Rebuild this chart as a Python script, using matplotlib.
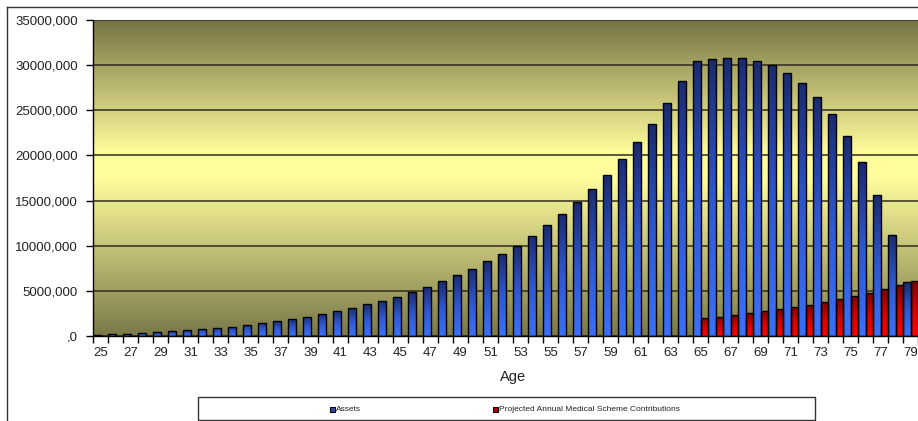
import numpy as np
import matplotlib
matplotlib.use('Agg')
import matplotlib.pyplot as plt
from matplotlib.colors import LinearSegmentedColormap
from matplotlib.patches import Rectangle
from matplotlib.lines import Line2D
from matplotlib.ticker import FuncFormatter, MultipleLocator

plt.rcParams['font.family'] = ['Liberation Sans', 'DejaVu Sans']

# projected values in millions, per age
ages = list(range(25, 80))
assets = [0.10, 0.20, 0.22, 0.37, 0.44, 0.55, 0.63, 0.81, 0.92, 1.03,
          1.25, 1.47, 1.66, 1.88, 2.14, 2.45, 2.77, 3.14, 3.50, 3.91,
          4.32, 4.84, 5.46, 6.09, 6.72, 7.42, 8.27, 9.08, 9.97, 11.11,
          12.29, 13.55, 14.80, 16.25, 17.83, 19.62, 21.45, 23.48, 25.80, 28.24,
          30.45, 30.68, 30.82, 30.82, 30.49, 29.98, 29.17, 28.06, 26.44, 24.63,
          22.15, 19.27, 15.62, 11.19, 5.95]
med_ages = list(range(65, 80))
med_contrib = [2.03, 2.14, 2.33, 2.58, 2.77, 2.99, 3.25, 3.47, 3.77, 4.06,
               4.39, 4.80, 5.20, 5.65, 6.05]

W, H = 918, 421


def fx(x):
    return x / W


def fy(y):
    return 1 - y / H


fig = plt.figure(figsize=(W / 100, H / 100), dpi=100)
fig.patch.set_facecolor('white')

# chart area outline (runs off the right and bottom)
fig.add_artist(Line2D([fx(7), fx(7)], [fy(7), fy(H + 5)], color='#333333', lw=1))
fig.add_artist(Line2D([fx(7), fx(W + 5)], [fy(7), fy(7)], color='#333333', lw=1))

ax = fig.add_axes([fx(93), fy(336), (933 - 93) / W, (336 - 20) / H])

x_lo, x_hi = 24.5, 80.5
y_top = 35e6

# plot area fill: olive -> yellow -> olive
grad = np.linspace(0, 1, 256).reshape(-1, 1)
bg_cmap = LinearSegmentedColormap.from_list(
    'bg', [(0, '#7a7849'), (0.5, '#fffd9c'), (0.58, '#fffd9c'), (1, '#777446')])
ax.imshow(grad, cmap=bg_cmap, extent=(x_lo, x_hi, 0, y_top), origin='lower',
          aspect='auto', zorder=-2)

ax.yaxis.grid(True, color='#2e2c1c', lw=1.1, zorder=-1)
ax.set_axisbelow(True)

blue_cmap = LinearSegmentedColormap.from_list('blue', ['#3c70fa', '#2f58d0', '#1b2b6e'])
red_cmap = LinearSegmentedColormap.from_list('red', ['#ff0000', '#d00000', '#780404'])


def gradient_bars(xs, vals, offset, cmap):
    bars = ax.bar(np.array(xs) + offset, np.array(vals) * 1e6, width=0.5,
                  facecolor='none', edgecolor='black', lw=1.0, zorder=3)
    for b in bars:
        x0, w, h = b.get_x(), b.get_width(), b.get_height()
        im = ax.imshow(grad, cmap=cmap, extent=(x0, x0 + w, 0, h), origin='lower',
                       aspect='auto', zorder=2)
        im.set_clip_path(b)
    return bars


gradient_bars(ages, assets, -0.25, blue_cmap)
gradient_bars(med_ages, med_contrib, 0.25, red_cmap)

ax.set_xlim(x_lo, x_hi)
ax.set_ylim(0, y_top)

for s in ['top', 'right']:
    ax.spines[s].set_visible(False)
for s in ['left', 'bottom']:
    ax.spines[s].set_color('black')
    ax.spines[s].set_linewidth(1.0)

ax.yaxis.set_major_locator(MultipleLocator(5e6))
ax.yaxis.set_major_formatter(FuncFormatter(
    lambda v, _: f'{int(round(v / 1000))},000' if v else ',0'))
ax.tick_params(axis='y', direction='out', length=5, width=1, pad=6,
               labelsize=9.5, labelcolor='#222222')

ax.set_xticks(np.arange(x_lo, x_hi + 0.01, 1))
ax.set_xticklabels([])
ax.set_xticks(ages[::2], minor=True)
ax.set_xticklabels([str(a) for a in ages[::2]], minor=True)
ax.tick_params(axis='x', which='major', direction='out', length=5, width=1)
ax.tick_params(axis='x', which='minor', length=0, pad=8, labelsize=9.5,
               labelcolor='#222222')
ax.set_xlabel('Age', fontsize=10.5, color='#222222', labelpad=8)

# legend strip
fig.add_artist(Rectangle((fx(198), fy(420)), (815 - 198) / W, (420 - 397) / H,
                         transform=fig.transFigure, facecolor='white',
                         edgecolor='#333333', lw=1))
legend_items = [(330, 'Assets', '#2a48b0'),
                (493, 'Projected Annual Medical Scheme Contributions', '#b00000')]
for px, label, col in legend_items:
    fig.add_artist(Rectangle((fx(px), fy(411.5)), 5 / W, 5 / H,
                             transform=fig.transFigure, facecolor=col,
                             edgecolor='black', lw=0.8))
    fig.text(fx(px + 6), fy(409.5), label, fontsize=6, va='center', ha='left',
             color='#222222')

fig.savefig('out.png', dpi=100)
